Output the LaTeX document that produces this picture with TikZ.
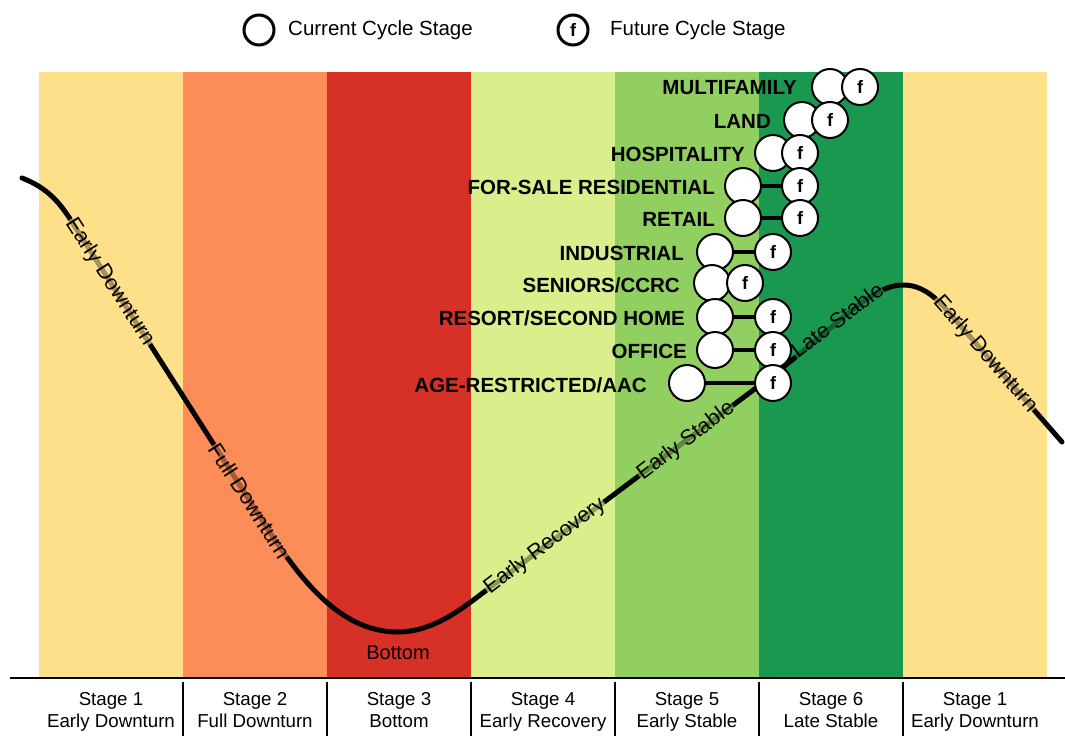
\documentclass[tikz,border=0pt]{standalone}
\usepackage{fontspec}
\setmainfont{Liberation Sans}
\definecolor{bandA}{HTML}{FEE08B}
\definecolor{bandB}{HTML}{FC8D59}
\definecolor{bandC}{HTML}{D73027}
\definecolor{bandD}{HTML}{D9EF8B}
\definecolor{bandE}{HTML}{91CF60}
\definecolor{bandF}{HTML}{1A9850}
\begin{document}
\begin{tikzpicture}[x=1pt,y=-1pt,
  cur/.style={circle, draw=black, line width=2pt, fill=white, minimum size=36pt, inner sep=0pt},
  fut/.style={cur, font=\bfseries\fontsize{18}{18}\selectfont},
  cat/.style={anchor=east, inner sep=0pt, font=\bfseries\fontsize{20.5}{22}\selectfont},
  conn/.style={line width=3.5pt},
  curvelbl/.style={inner sep=0.5pt, fill opacity=0.65, text opacity=1, font=\fontsize{21.5}{22}\selectfont},
  stagelbl/.style={align=center, font=\fontsize{18.7}{22}\selectfont},
  legtxt/.style={anchor=west, inner sep=0pt, font=\fontsize{20.5}{22}\selectfont},
  sep/.style={line width=1.5pt}
]
\useasboundingbox (0,0) rectangle (1065,736);
% bands
\fill[bandA] (39,72) rectangle (183,678);
\fill[bandB] (183,72) rectangle (327,678);
\fill[bandC] (327,72) rectangle (471,678);
\fill[bandD] (471,72) rectangle (615,678);
\fill[bandE] (615,72) rectangle (759,678);
\fill[bandF] (759,72) rectangle (903,678);
\fill[bandA] (903,72) rectangle (1047,678);
% axis
\draw[sep] (10,678) -- (1065,678);
\foreach \xx in {183,327,471,615,759,903} \draw[sep] (\xx,682) -- (\xx,736);
% stage labels
\node[stagelbl] (s1) at (111,712) {\strut Stage 1\\\strut Early Downturn};
\node[stagelbl] (s2) at (255,712) {\strut Stage 2\\\strut Full Downturn};
\node[stagelbl] (s3) at (399,712) {\strut Stage 3\\\strut Bottom};
\node[stagelbl] (s4) at (543,712) {\strut Stage 4\\\strut Early Recovery};
\node[stagelbl] (s5) at (687,712) {\strut Stage 5\\\strut Early Stable};
\node[stagelbl] (s6) at (831,712) {\strut Stage 6\\\strut Late Stable};
\node[stagelbl] (s7) at (975,712) {\strut Stage 1\\\strut Early Downturn};
% legend
\node[cur, minimum size=30pt, line width=3pt] (lcur) at (259,30) {};
\node[legtxt] (lcurt) at (288,30) {Current Cycle Stage};
\node[cur, minimum size=30pt, line width=3pt, font=\bfseries\fontsize{18}{18}\selectfont] (lfut) at (573,30) {f};
\node[legtxt] (lfutt) at (610,30) {Future Cycle Stage};
% curve
\draw[line width=5pt, line cap=round] (22,178) .. controls (48,188) and (60,203) .. (72,222) -- (262,520) .. controls (300,580) and (340,632) .. (398,632) .. controls (430,632) and (458,612) .. (480,595) -- (760,385) .. controls (840,325) and (870,285) .. (903,285) .. controls (920,285) and (932,294) .. (945,308) -- (1062,442);
\node[curvelbl, fill=bandA, rotate=-57.5] (ed1) at (110,282) {Early Downturn};
\node[curvelbl, fill=bandB, rotate=-57.5] (fd) at (250,501) {Full Downturn};
\node[curvelbl, fill=bandD, rotate=37] (er) at (545,546) {Early Recovery};
\node[curvelbl, fill=bandE, rotate=37] (es) at (686,441) {Early Stable};
\node[curvelbl, fill=bandF, rotate=37] (ls) at (837,320) {Late Stable};
\node[curvelbl, fill=bandA, rotate=-49] (ed2) at (985,354) {Early Downturn};
\node[font=\fontsize{20}{22}\selectfont] (bot) at (398,653) {Bottom};
% sectors
\node[cur] (c1) at (830,87) {};   \node[fut] (f1) at (860,87) {f};
\node[cat] (t1) at (797,88) {MULTIFAMILY};
\node[cur] (c2) at (802,120) {};  \node[fut] (f2) at (830,120) {f};
\node[cat] (t2) at (771,121) {LAND};
\node[cur] (c3) at (773,153) {};  \node[fut] (f3) at (800,153) {f};
\node[cat] (t3) at (745,154) {HOSPITALITY};
\node[cur] (c4) at (743,186) {};
\node[cat] (t4) at (715,187) {FOR-SALE RESIDENTIAL};
\node[cur] (c5) at (743,218) {};
\node[cat] (t5) at (715,219) {RETAIL};
\node[cur] (c6) at (715,252) {};
\node[cat] (t6) at (684,253) {INDUSTRIAL};
\node[cur] (c7) at (712,283) {};
\node[cat] (t7) at (680,285) {SENIORS/CCRC};
\node[cur] (c8) at (715,317) {};
\node[cat] (t8) at (685,318) {RESORT/SECOND HOME};
\node[cur] (c9) at (715,350) {};
\node[cat] (t9) at (687,351) {OFFICE};
\node[cur] (c10) at (687,383) {};
\node[cat] (t10) at (647,385) {AGE-RESTRICTED/AAC};
\node[fut] (f4) at (800,186) {f};
\node[fut] (f5) at (800,218) {f};
\node[fut] (f6) at (773,252) {f};
\node[fut] (f7) at (745,283) {f};
\node[fut] (f8) at (773,317) {f};
\node[fut] (f9) at (773,350) {f};
\node[fut] (f10) at (773,383) {f};
\draw[conn] (c4) -- (f4);
\draw[conn] (c5) -- (f5);
\draw[conn] (c6) -- (f6);
\draw[conn] (c8) -- (f8);
\draw[conn] (c9) -- (f9);
\draw[conn] (c10) -- (f10);
\end{tikzpicture}
\end{document}
